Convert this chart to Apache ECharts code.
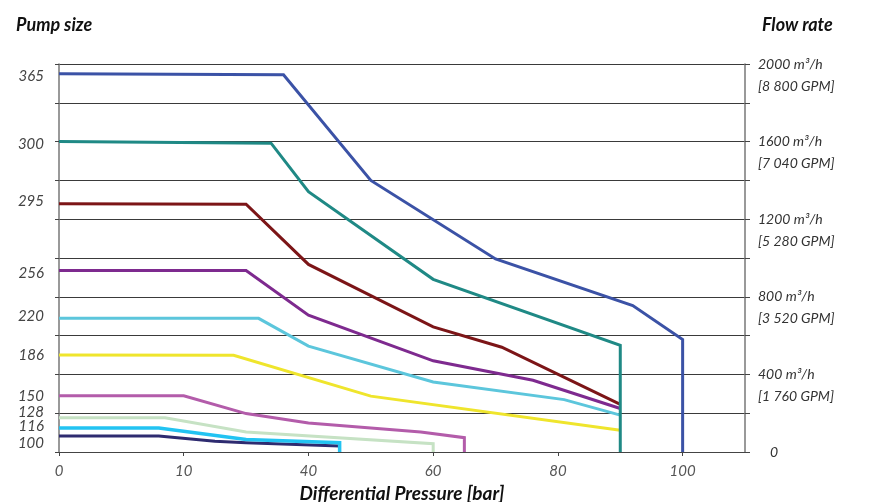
<!DOCTYPE html>
<html>
<head>
<meta charset="utf-8">
<script src="https://cdn.jsdelivr.net/npm/echarts@6/dist/echarts.min.js"></script>
<style>
html,body{margin:0;padding:0;background:#fff;}
#chart{width:874px;height:502px;}
</style>
</head>
<body>
<div id="chart"></div>
<script>
// x tick labels as printed on the reference (ticks every 20 units of the linear axis)
const xTickValues = [0, 20, 40, 60, 80, 100];
const xTickLabels = ['0', '10', '40', '60', '80', '100'];

// right axis: flow rate tick labels
const flowTickValues = [0, 400, 800, 1200, 1600, 2000];
const flowTickLabels = ['0', '400 m³/h|[1 760 GPM]', '800 m³/h|[3 520 GPM]', '1200 m³/h|[5 280 GPM]', '1600 m³/h|[7 040 GPM]', '2000 m³/h|[8 800 GPM]'];

// left axis: pump size labels and their vertical positions (flow units)
const pumpSizes = ['365', '300', '295', '256', '220', '186', '150', '128', '116', '100'];
const pumpLabelFlows = [1936, 1589, 1291, 924, 701, 499, 289, 207, 133, 46];

// series: [differential pressure, flow rate]
const p365 = [[0, 1950], [36, 1945], [50, 1400], [70, 995], [92, 755], [100, 580], [100, 0]];
const p300 = [[0, 1600], [34, 1592], [40, 1342], [60, 890], [90, 550], [90, 0]];
const p295 = [[0, 1280], [30, 1277], [40, 967], [60, 645], [71, 540], [90, 245]];
const p256 = [[0, 935], [30, 935], [40, 705], [60, 470], [76, 370], [90, 224]];
const p220 = [[0, 690], [32, 689], [40, 546], [60, 361], [81, 270], [90, 190]];
const p186 = [[0, 500], [28, 499], [50, 288], [90, 112]];
const p150 = [[0, 290], [20, 290], [30, 198], [40, 150], [58, 103], [65, 74], [65, 0]];
const p128 = [[0, 176], [17, 176], [30, 103], [60, 43], [60, 0]];
const p116 = [[0, 124], [16, 124], [30, 64], [45, 48], [45, 0]];
const p100 = [[0, 83], [16, 83], [25, 55], [30, 48], [45, 31]];

const seriesDefs = [
  { name: '100', data: p100, color: '#2E2B70', w: 3 },
  { name: '116', data: p116, color: '#22C3F2', w: 3.5 },
  { name: '128', data: p128, color: '#C6E2C4', w: 3 },
  { name: '150', data: p150, color: '#B35CAA', w: 3 },
  { name: '186', data: p186, color: '#EFE52C', w: 3 },
  { name: '220', data: p220, color: '#5CC6DC', w: 3 },
  { name: '256', data: p256, color: '#7E2A8F', w: 3 },
  { name: '295', data: p295, color: '#7C1517', w: 3 },
  { name: '300', data: p300, color: '#1F8985', w: 3 },
  { name: '365', data: p365, color: '#3B52A6', w: 3 }
];

const FONT = 'Lato';
const chart = echarts.init(document.getElementById('chart'), null, { renderer: 'canvas' });

chart.setOption({
  animation: false,
  backgroundColor: '#ffffff',
  title: [
    { text: 'Pump size', left: 11, top: 11, textStyle: { fontFamily: FONT, fontStyle: 'italic', fontWeight: 'bold', fontSize: 18, color: '#111' } },
    { text: 'Flow rate', left: 757, top: 11, textStyle: { fontFamily: FONT, fontStyle: 'italic', fontWeight: 'bold', fontSize: 18, color: '#111' } }
  ],
  grid: { left: 59, right: 129, top: 64, bottom: 50, containLabel: false, outerBoundsMode: 'none' },
  xAxis: {
    type: 'value', min: 0, max: 110, interval: 20,
    name: 'Differential Pressure [bar]', nameLocation: 'middle', nameGap: 28,
    nameTextStyle: { fontFamily: FONT, fontStyle: 'italic', fontWeight: 'bold', fontSize: 19, color: '#111' },
    axisLine: { lineStyle: { color: '#444', width: 1 } },
    axisTick: { show: true, length: 4, lineStyle: { color: '#444' } },
    splitLine: { show: false },
    axisLabel: {
      margin: 12, fontFamily: FONT, fontStyle: 'italic', fontSize: 15, color: '#555',
      showMaxLabel: false,
      formatter: function (v) { const i = xTickValues.indexOf(v); return i >= 0 ? xTickLabels[i] : ''; }
    }
  },
  yAxis: [
    {
      type: 'value', position: 'left', min: 0, max: 2000, interval: 200,
      axisLine: { show: true, lineStyle: { color: '#777', width: 1.5 } },
      axisTick: { show: true, length: 4, lineStyle: { color: '#444' } },
      splitLine: { show: false },
      axisLabel: {
        customValues: pumpLabelFlows,
        margin: 15, fontFamily: FONT, fontStyle: 'italic', fontSize: 15, color: '#444',
        formatter: function (v) { const i = pumpLabelFlows.indexOf(v); return i >= 0 ? pumpSizes[i] : ''; }
      }
    },
    {
      type: 'value', position: 'right', min: 0, max: 2000, interval: 200,
      axisLine: { show: true, lineStyle: { color: '#777', width: 1.5 } },
      axisTick: { show: true, length: 5, lineStyle: { color: '#444' } },
      splitLine: { show: true, lineStyle: { color: '#3a3a3a', width: 1 } },
      axisLabel: {
        margin: 13, fontFamily: FONT, fontStyle: 'italic', fontSize: 14, color: '#333',
        lineHeight: 22,
        formatter: function (v) {
          const i = flowTickValues.indexOf(v);
          if (i < 0) return '';
          if (v === 0) return '{z|0}';
          const parts = flowTickLabels[i].split('|');
          return '{a| }\n{a|' + parts[0] + '}\n{a|' + parts[1] + '}';
        },
        rich: {
          a: { fontFamily: FONT, fontStyle: 'italic', fontSize: 14, color: '#333', lineHeight: 22 },
          z: { fontFamily: FONT, fontStyle: 'italic', fontSize: 14, color: '#333', padding: [0, 0, 0, 12] }
        }
      }
    }
  ],
  series: seriesDefs.map(function (s) {
    return {
      name: s.name, type: 'line', yAxisIndex: 1, data: s.data,
      symbol: 'none', smooth: false, clip: false,
      lineStyle: { color: s.color, width: s.w, join: 'miter' },
      itemStyle: { color: s.color }
    };
  })
});
</script>
</body>
</html>
